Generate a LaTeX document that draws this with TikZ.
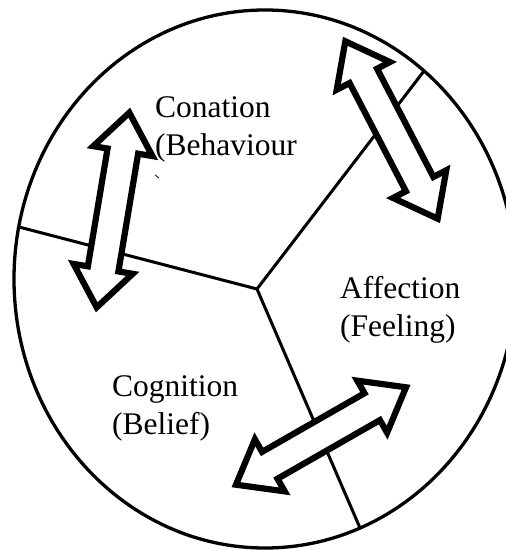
\documentclass[tikz,border=0pt]{standalone}
\usepackage{fontspec}
\setmainfont{Liberation Serif}
\newcommand\dblarr[4]{%
  \begin{scope}[shift={(#2)}, rotate=#3]
    \draw[dblarrowstyle] (#4,0) -- (#4-39,30) -- (#4-39,15.5) -- (-#4+39,15.5)
      -- (-#4+39,30) -- (-#4,0) -- (-#4+39,-30) -- (-#4+39,-15.5)
      -- (#4-39,-15.5) -- (#4-39,-30) -- cycle;
  \end{scope}}
\tikzset{
  dblarrowstyle/.style={draw=black, fill=white, line width=6.2pt, line join=miter, miter limit=10},
  outline/.style={draw=black, line width=3.3pt},
  radial/.style={draw=black, line width=3pt},
  label/.style={anchor=north west, inner sep=0pt, align=left, font=\fontsize{31.5}{38.5}\selectfont}
}
\begin{document}
\begin{tikzpicture}[x=1pt,y=1pt]
\useasboundingbox (0,0) rectangle (506,550);
\clip (0,0) rectangle (506,550);
\fill[white] (0,0) rectangle (506,550);
% outer ellipse
\draw[outline] (265,271) ellipse [x radius=251, y radius=269];
% radial lines
\coordinate (c) at (257,261);
\coordinate (e1) at (19,323);
\coordinate (e2) at (424,479);
\coordinate (e3) at (360,22);
\draw[radial, line join=round] (e1) -- (c) -- (e2);
\draw[radial] (c) -- (e3);
% double arrows
\coordinate (a1) at (113,340);
\coordinate (a2) at (391.5,420);
\coordinate (a3) at (321,114);
\dblarr{a1}{a1}{80.5}{98.7}
\dblarr{a2}{a2}{-62.5}{100}
\dblarr{a3}{a3}{29.8}{98}
% labels
\node[label] (conation) at (155,454) {Conation\\(Behaviour};
\node[label] (affection) at (340,274) {Affection\\(Feeling)};
\node[label] (cognition) at (112,175) {Cognition\\(Belief)};
% stray mark
\coordinate (m1) at (155,375);
\coordinate (m2) at (159,372);
\draw[line width=1pt, black!80] (m1) -- (m2);
\end{tikzpicture}
\end{document}
